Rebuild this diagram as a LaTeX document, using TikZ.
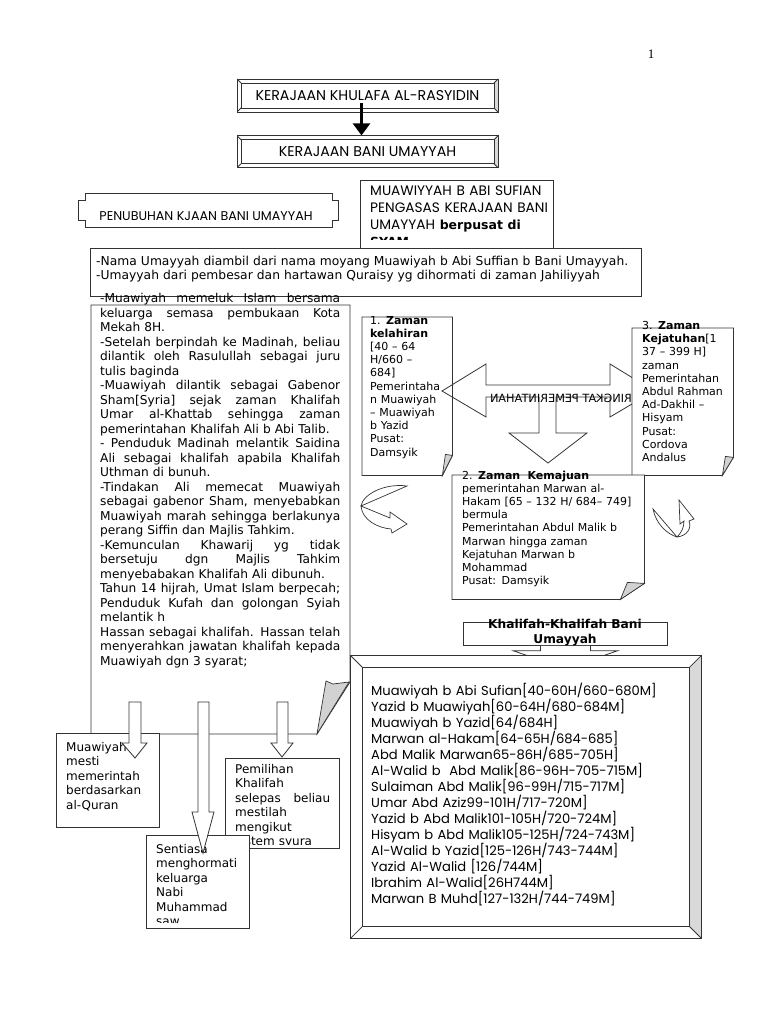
\documentclass[tikz,border=0pt]{standalone}
\usepackage{graphicx}
\usepackage{fontspec}
\setmainfont{DejaVu Sans}
\newfontfamily\gothic{Poppins}
\newfontfamily\pagefont{Liberation Serif}
\usepackage{tikz}
\usetikzlibrary{shapes,arrows.meta,positioning}
\hyphenpenalty=10000
\exhyphenpenalty=10000
\newcommand{\jline}[2][240pt]{\makebox[#1][s]{\spaceskip=0pt\xspaceskip=0pt #2}}

\begin{document}
\begin{tikzpicture}[x=1pt, y=-1pt, every node/.style={font=\fontsize{12}{14.5}\selectfont}]
    \tikzstyle{boxframe} = [draw=black!80, line width=0.8pt, fill=white, inner sep=0pt, anchor=north west]
    \tikzstyle{notebox} = [fill=white, inner sep=0pt, anchor=north west]
    \tikzstyle{txt} = [anchor=north west, inner sep=0pt, align=left, text height=9pt]
    \tikzstyle{smalltxt} = [font=\fontsize{11}{13.2}\selectfont, text height=8.3pt]
    \tikzstyle{boxline} = [draw=black!80, line width=0.8pt]
    \tikzstyle{fold} = [draw=black!80, line width=0.7pt, fill=gray!35]
    \tikzstyle{blockarrow} = [draw=black!80, line width=0.8pt, fill=white]
    \tikzset{bevel/.style={draw=black!80, line width=0.8pt, fill=white, inner sep=0pt,
        path picture={
            \fill[gray!30] (path picture bounding box.north east) -- (path picture bounding box.south east)
                -- ([shift={(-#1,#1)}]path picture bounding box.south east)
                -- ([shift={(-#1,-#1)}]path picture bounding box.north east) -- cycle;
            \draw[black!80, line width=0.8pt] ([shift={(#1,-#1)}]path picture bounding box.north west)
                rectangle ([shift={(-#1,#1)}]path picture bounding box.south east);
            \draw[black!80, line width=0.8pt] (path picture bounding box.north west) -- ++(#1,-#1)
                (path picture bounding box.north east) -- ++(-#1,-#1)
                (path picture bounding box.south west) -- ++(#1,#1)
                (path picture bounding box.south east) -- ++(-#1,#1);
        }}}

    \path[fill=white, use as bounding box] (0,0) rectangle (768,1024);

    \node (pagenum) [font=\pagefont\fontsize{13}{15}\selectfont] at (651,54) {1};

    % kerajaan
    \node (khulafa) [bevel=4pt, minimum width=261pt, minimum height=33pt, font=\gothic\fontsize{14.2}{16}\selectfont] at (367.5,95.5) {KERAJAAN KHULAFA AL-RASYIDIN};
    \node (umayyah) [bevel=4pt, minimum width=261pt, minimum height=32pt, font=\gothic\fontsize{14.2}{16}\selectfont, below=23pt of khulafa] {KERAJAAN BANI UMAYYAH};
    \draw [-{Triangle[width=17pt,length=12pt]}, line width=2.6pt] ([xshift=-6pt,yshift=9pt]khulafa.south) -- ([xshift=-6pt]umayyah.north);

    % penubuhan
    \draw [boxline] (78,200) -| (85,193) -- (332,193) |- (338,200) -- (338,220) -| (332,227) -- (85,227) |- (78,220) -- cycle;
    \node (penubuhan) [font=\gothic\fontsize{12.7}{14}\selectfont] at (206,216) {PENUBUHAN KJAAN BANI UMAYYAH};

    \node (pengasas) [boxframe, minimum width=193pt, minimum height=68pt] at (360,180) {};
    \begin{scope}
        \clip (360,180) rectangle (553,239);
        \node (pengasastxt) [txt, text width=200pt, text height=10pt, font=\gothic\fontsize{13.7}{17}\selectfont] at (370,185) {MUAWIYYAH B ABI SUFIAN\\PENGASAS KERAJAAN BANI\\UMAYYAH {\normalfont\bfseries\fontsize{12.5}{17}\selectfont berpusat di}\\{\normalfont\bfseries\fontsize{12.5}{17}\selectfont SYAM}};
    \end{scope}

    \node (nama) [boxframe, minimum width=551pt, minimum height=48pt] at (90,248) {};
    \node (namatxt) [txt, text width=560pt, font=\fontsize{12.3}{14.5}\selectfont] at (96,256) {-Nama Umayyah diambil dari nama moyang Muawiyah b Abi Suffian b Bani Umayyah.\\-Umayyah dari pembesar dan hartawan Quraisy yg dihormati di zaman Jahiliyyah};

    % sejarah
    \draw [boxline, fill=white] (91,305) -- (350,305) -- (350,682) -- (317,734) -- (91,734) -- cycle;
    \filldraw [fold] (317,734) -- (326,681) -- (333,684) -- (349,682) -- cycle;
    \node (sejarah) [txt, text width=246pt, font=\fontsize{12.2}{14.5}\selectfont] at (100,293.5) {\jline{-Muawiyah memeluk Islam bersama}\\
        \jline{keluarga semasa pembukaan Kota}\\
        Mekah 8H.\\
        \jline{-Setelah berpindah ke Madinah, beliau}\\
        \jline{dilantik oleh Rasulullah sebagai juru}\\
        tulis baginda\\
        \jline{-Muawiyah dilantik sebagai Gabenor}\\
        \jline{Sham[Syria] sejak zaman Khalifah}\\
        \jline{Umar al-Khattab sehingga zaman}\\
        pemerintahan Khalifah Ali b Abi Talib.\\
        \jline{- Penduduk Madinah melantik Saidina}\\
        \jline{Ali sebagai khalifah apabila Khalifah}\\
        Uthman di bunuh.\\
        \jline{-Tindakan Ali memecat Muawiyah}\\
        \jline{sebagai gabenor Sham, menyebabkan}\\
        \jline{Muawiyah marah sehingga berlakunya}\\
        perang Siffin dan Majlis Tahkim.\\
        \jline{-Kemunculan Khawarij yg tidak}\\
        \jline{bersetuju dgn Majlis Tahkim}\\
        menyebabakan Khalifah Ali dibunuh.\\
        \jline{Tahun 14 hijrah, Umat Islam berpecah;}\\
        \jline{Penduduk Kufah dan golongan Syiah}\\
        melantik h\\
        \jline{Hassan sebagai khalifah. Hassan telah}\\
        \jline{menyerahkan jawatan khalifah kepada}\\
        Muawiyah dgn 3 syarat;};

    % zaman
    \node (kelahiran) [notebox, minimum width=90pt, minimum height=158pt] at (362,317) {};
    \draw [boxline] (kelahiran.north west) -- (kelahiran.north east) -- ([yshift=20pt]kelahiran.south east) -- ([xshift=-10pt]kelahiran.south east) -- (kelahiran.south west) -- cycle;
    \filldraw [fold] ([xshift=-10pt]kelahiran.south east) -- ([xshift=-7pt,yshift=21pt]kelahiran.south east) -- ([yshift=20pt]kelahiran.south east) -- cycle;
    \node (kelahirantxt) [txt, smalltxt, text width=84pt] at (370,315.5) {1. \textbf{Zaman}\\\textbf{kelahiran}\\{[}40 – 64\\H/660 –\\684]\\Pemerintaha\\n Muawiyah\\– Muawiyah\\b Yazid\\Pusat:\\Damsyik};

    \draw [boxline] (442,391) -- (486,364) -- (486,385) -- (610,385) -- (610,364) -- (654,391) -- (610,417) -- (610,397) -- (556,397) -- (556,433) -- (587,433) -- (548,463) -- (509,433) -- (539,433) -- (539,397) -- (486,397) -- (486,417) -- cycle;
    \node (ringkat) [font=\fontsize{11.3}{13}\selectfont, inner sep=0pt] at (561,398) {\reflectbox{RINGKAT PEMERINTAHAN}};

    \node (kejatuhan) [notebox, minimum width=101pt, minimum height=147pt] at (632,328) {};
    \draw [boxline] (kejatuhan.north west) -- (kejatuhan.north east) -- ([yshift=18pt]kejatuhan.south east) -- ([xshift=-11pt]kejatuhan.south east) -- (kejatuhan.south west) -- cycle;
    \filldraw [fold] ([xshift=-11pt]kejatuhan.south east) -- ([xshift=-8pt,yshift=19pt]kejatuhan.south east) -- ([yshift=18pt]kejatuhan.south east) -- cycle;
    \node (kejatuhantxt) [txt, smalltxt, text width=92pt] at (642,321) {3. \textbf{Zaman}\\\textbf{Kejatuhan}[1\\37 – 399 H]\\zaman\\Pemerintahan\\Abdul Rahman\\Ad-Dakhil –\\Hisyam\\Pusat:\\Cordova\\Andalus};

    \node (kemajuan) [notebox, minimum width=192pt, minimum height=124pt] at (452,475) {};
    \draw [boxline] (kemajuan.north west) -- (kemajuan.north east) -- ([yshift=16pt]kemajuan.south east) -- ([xshift=-24pt]kemajuan.south east) -- (kemajuan.south west) -- cycle;
    \filldraw [fold] ([xshift=-24pt]kemajuan.south east) -- ([xshift=-17pt,yshift=17pt]kemajuan.south east) -- ([yshift=16pt]kemajuan.south east) -- cycle;
    \node (kemajuantxt) [txt, smalltxt, text width=180pt] at (462,470.5) {2. \textbf{Zaman\ \ Kemajuan}\\pemerintahan Marwan al-\\Hakam [65 – 132 H/ 684– 749]\\bermula\\Pemerintahan Abdul Malik b\\Marwan hingga zaman\\Kejatuhan Marwan b\\Mohammad\\Pusat: Damsyik};

    % anak panah lengkung
    \draw [blockarrow, line width=0.7pt] (407,486) .. controls (385,483) and (363,494) .. (361,506) .. controls (362,520) and (378,528) .. (391,529) -- (392,533) -- (407,524) -- (390,512) -- (390,518) -- (361,506) -- cycle;
    \draw [blockarrow, line width=0.7pt] (653,509) .. controls (656,524) and (667,534) .. (677,537) .. controls (687,536) and (692,528) .. (689,521) -- (694,519) -- (679,500) -- (680,524) -- (684,521) .. controls (684,528) and (681,533) .. (677,537) -- cycle;

    % khalifah
    \node (khalifah) [boxframe, minimum width=204pt, minimum height=23pt] at (463,622) {};
    \node (khalifahtxt) [font=\bfseries\fontsize{12.2}{15}\selectfont, align=center, inner sep=0pt] at (565,633) {Khalifah-Khalifah Bani\\Umayyah};
    \draw [blockarrow] ([xshift=-25pt]khalifah.south) -- ++(0,5) -- ++(-27,0) -- ++(52,18) -- ++(52,-18) -- ++(-27,0) -- ++(0,-5);

    \node (list) [bevel=12pt, minimum width=351pt, minimum height=283pt, anchor=north west] at (350,655) {};
    \node (listtxt) [txt, text width=325pt, text height=9.5pt, font=\gothic\fontsize{13.1}{16}\selectfont] at (371,686) {Muawiyah b Abi Sufian[40-60H/660-680M]\\
        Yazid b Muawiyah[60-64H/680-684M]\\
        Muawiyah b Yazid[64/684H]\\
        Marwan al-Hakam[64-65H/684-685]\\
        Abd Malik Marwan65-86H/685-705H]\\
        Al-Walid b\ \ Abd Malik[86-96H-705-715M]\\
        Sulaiman Abd Malik[96-99H/715-717M]\\
        Umar Abd Aziz99-101H/717-720M]\\
        Yazid b Abd Malik101-105H/720-724M]\\
        Hisyam b Abd Malik105-125H/724-743M]\\
        Al-Walid b Yazid[125-126H/743-744M]\\
        Yazid Al-Walid [126/744M]\\
        Ibrahim Al-Walid[26H744M]\\
        Marwan B Muhd[127-132H/744-749M]};

    % syarat
    \node (syarat1) [boxframe, minimum width=103pt, minimum height=94pt] at (56,733) {};
    \node (syarat1txt) [txt, text width=90pt] at (66,742) {Muawiyah\\mesti\\memerintah\\berdasarkan\\al-Quran};
    \node (syarat3) [boxframe, minimum width=114pt, minimum height=90pt] at (225,758) {};
    \begin{scope}
        \clip (225,758) rectangle (339,844);
        \node (syarat3txt) [txt, text width=100pt] at (235,764) {Pemilihan\\Khalifah\\\jline[95pt]{selepas beliau}\\mestilah\\mengikut\\sistem syura};
    \end{scope}
    \node (syarat2) [boxframe, minimum width=103pt, minimum height=93pt] at (146,835) {};
    \begin{scope}
        \clip (146,835) rectangle (249,922);
        \node (syarat2txt) [txt, text width=92pt] at (156,844) {Sentiasa\\menghormati\\keluarga\\Nabi\\Muhammad\\saw};
    \end{scope}

    \coordinate (pangkal1) at (129,702);
    \coordinate (pangkal2) at (198,702);
    \coordinate (pangkal3) at (277,702);
    \draw [blockarrow] (pangkal1) -- ++(0,41) -- ++(-7,0) -- ++(13,15) -- ++(12,-15) -- ++(-6,0) -- ++(0,-41) -- cycle;
    \draw [blockarrow] (pangkal2) -- ++(0,110) -- ++(-6,0) -- ++(11,41) -- ++(11,-41) -- ++(-5,0) -- ++(0,-110) -- cycle;
    \draw [blockarrow] (pangkal3) -- ++(0,41) -- ++(-6,0) -- ++(11,14) -- ++(11,-14) -- ++(-5,0) -- ++(0,-41) -- cycle;
\end{tikzpicture}
\end{document}
